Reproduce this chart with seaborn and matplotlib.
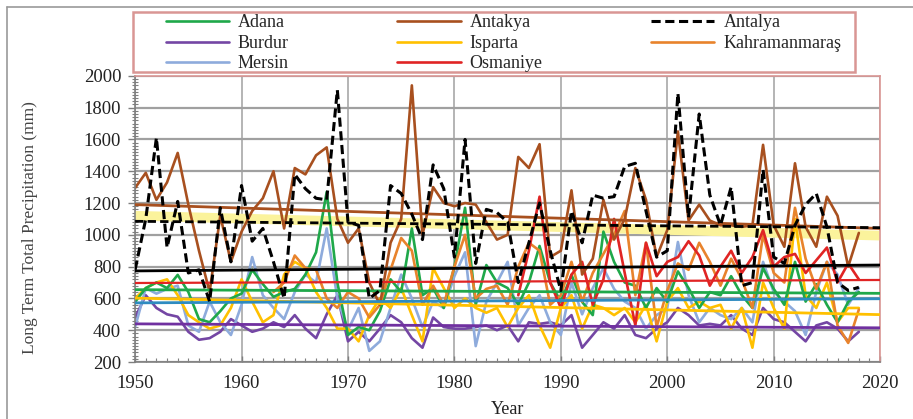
import numpy as np
import pandas as pd
import matplotlib.pyplot as plt
import seaborn as sns
from matplotlib.lines import Line2D
from matplotlib.patches import Rectangle
from matplotlib.ticker import MultipleLocator

years = list(range(1950, 2019))
adana = [578, 665, 700, 665, 748, 640, 470, 450, 520, 600,
         630, 780, 690, 610, 640, 660, 750, 890, 1270, 700,
         370, 420, 400, 520, 720, 640, 1040, 620, 665, 540,
         800, 1170, 560, 810, 700, 665, 560, 700, 930, 700,
         580, 748, 578, 495, 1020, 830, 700, 680, 540, 665,
         578, 770, 665, 540, 640, 620, 740, 620, 540, 790,
         660, 560, 830, 580, 690, 560, 450, 578, 640]
antakya = [1295, 1390, 1220, 1330, 1515, 1190, 900, 640, 1120, 830,
           1020, 1150, 1230, 1400, 1040, 1420, 1380, 1500, 1550, 1100,
           950, 1040, 700, 560, 950, 1100, 1940, 1000, 1300, 1200,
           1180, 1200, 1190, 1080, 970, 1000, 1490, 1420, 1570, 860,
           900, 1280, 750, 850, 1220, 970, 1100, 1420, 1220, 860,
           1030, 1650, 1090, 1190, 1090, 1060, 1060, 1050, 1060, 1566,
           1060, 925, 1450, 1050, 925, 1240, 1120, 800, 1012]
antalya = [780, 1100, 1610, 920, 1210, 760, 780, 580, 1170, 830,
           1310, 960, 1040, 830, 600, 1380, 1290, 1230, 1220, 1910,
           1080, 1060, 600, 650, 1310, 1260, 1130, 970, 1440, 1290,
           860, 1600, 820, 1160, 1140, 1080, 700, 950, 1200, 900,
           650, 1150, 950, 1250, 1230, 1240, 1430, 1450, 1150, 860,
           900, 1890, 1110, 1760, 1250, 1060, 1300, 680, 700, 1410,
           860, 820, 1060, 1190, 1260, 1050, 700, 650, 670]
burdur = [480, 620, 540, 500, 485, 390, 340, 350, 390, 470,
          430, 390, 410, 450, 420, 495, 410, 350, 500, 620,
          330, 390, 330, 410, 495, 450, 350, 290, 480, 420,
          410, 410, 420, 430, 400, 430, 330, 450, 440, 450,
          430, 495, 290, 370, 450, 410, 495, 370, 350, 410,
          450, 540, 495, 430, 440, 430, 495, 410, 370, 540,
          470, 450, 390, 330, 430, 450, 410, 330, 390]
isparta = [600, 665, 700, 720, 620, 495, 450, 410, 430, 540,
           720, 580, 450, 495, 750, 830, 790, 640, 540, 410,
           410, 330, 495, 600, 540, 665, 495, 330, 790, 665,
           540, 600, 540, 510, 540, 420, 540, 620, 430, 290,
           540, 620, 410, 560, 540, 495, 540, 450, 560, 330,
           580, 665, 540, 580, 540, 560, 410, 540, 290, 700,
           540, 410, 1100, 620, 540, 700, 450, 540, 540]
mersin = [420, 665, 630, 660, 680, 430, 390, 580, 450, 370,
          560, 860, 620, 540, 470, 640, 750, 700, 1040, 600,
          400, 540, 270, 330, 540, 750, 600, 420, 580, 540,
          740, 890, 300, 580, 700, 830, 430, 540, 620, 450,
          370, 700, 500, 665, 790, 660, 580, 540, 410, 495,
          540, 955, 620, 450, 540, 495, 470, 540, 450, 830,
          640, 580, 520, 370, 640, 830, 750, 560, 665]
kahraman_years = list(range(1963, 2019))
kahramanmaras = [640, 700, 870, 790, 780, 600, 540, 640, 600, 480,
                 560, 780, 980, 900, 560, 680, 560, 800, 1000, 600,
                 660, 680, 560, 800, 950, 900, 560, 620, 830, 580,
                 760, 880, 1000, 1150, 620, 950, 420, 650, 820, 780,
                 950, 830, 680, 850, 720, 540, 1000, 760, 700, 1170,
                 850, 660, 830, 430, 320, 530]
osmaniye_years = list(range(1986, 2019))
osmaniye = [620, 900, 1240, 700, 540, 750, 830, 560, 720, 1100,
            760, 430, 950, 740, 830, 860, 960, 870, 680, 800,
            900, 760, 860, 1030, 800, 860, 880, 760, 840, 920,
            700, 820, 720]

# trend lines (value at 1950, value at 2020)
trend_x = [1950, 2020]
trend_band = [1120, 995]
trend_antakya = [1190, 1040]
trend_antalya = [1085, 1045]
trend_black = [773, 810]
trend_red = [697, 716]
trend_green = [655, 632]
trend_teal = [572, 598]
trend_gold = [602, 498]
trend_purple = [440, 415]

sns.set_theme(style='white')
plt.rcParams['font.family'] = ['Liberation Serif', 'DejaVu Serif']

fig = plt.figure(figsize=(9.13, 4.19), dpi=100)
ax = fig.add_axes([0.148, 0.136, 0.816, 0.683])

lw = 1.9
series = [
    ('Burdur', years, burdur, '#7446a4'),
    ('Mersin', years, mersin, '#8eabdc'),
    ('Isparta', years, isparta, '#ffc000'),
    ('Adana', years, adana, '#1fa84a'),
    ('Kahramanmaraş', kahraman_years, kahramanmaras, '#e8832c'),
    ('Osmaniye', osmaniye_years, osmaniye, '#e02424'),
    ('Antakya', years, antakya, '#a8501f'),
]

sns.lineplot(x=trend_x, y=trend_band, color='#fbf39c', linewidth=7, ax=ax, zorder=1)
for name, xs, ys, col in series:
    sns.lineplot(x=xs, y=ys, color=col, linewidth=lw, ax=ax, label=name, zorder=2)

sns.lineplot(x=trend_x, y=trend_purple, color='#7030a0', linewidth=2, ax=ax, zorder=3)
sns.lineplot(x=trend_x, y=trend_gold, color='#ffc000', linewidth=2, ax=ax, zorder=3)
sns.lineplot(x=trend_x, y=trend_teal, color='#2e8bc0', linewidth=2, ax=ax, zorder=3)
sns.lineplot(x=trend_x, y=trend_green, color='#1fa84a', linewidth=2, ax=ax, zorder=3)
sns.lineplot(x=trend_x, y=trend_red, color='#e02424', linewidth=1.6, ax=ax, zorder=3)
sns.lineplot(x=trend_x, y=trend_black, color='black', linewidth=2, ax=ax, zorder=3)
sns.lineplot(x=trend_x, y=trend_antakya, color='#a8501f', linewidth=2, ax=ax, zorder=3)
sns.lineplot(x=trend_x, y=trend_antalya, color='black', linewidth=2, ax=ax, zorder=3,
             linestyle=(0, (3, 1.5)))

sns.lineplot(x=years, y=antalya, color='black', linewidth=2.2, ax=ax, label='Antalya',
             linestyle=(0, (3, 1.5)), zorder=4)

ax.set_xlim(1950, 2020)
ax.set_ylim(200, 2000)
ax.xaxis.set_major_locator(MultipleLocator(10))
ax.xaxis.set_minor_locator(MultipleLocator(1))
ax.yaxis.set_major_locator(MultipleLocator(200))
ax.yaxis.set_minor_locator(MultipleLocator(20))
ax.grid(axis='y', which='major', color='#a0a0a0', linewidth=1.6, zorder=0)
ax.grid(axis='x', which='major', color='#a0a0a0', linewidth=1.1, zorder=0)
ax.set_axisbelow(True)

ax.tick_params(axis='both', which='major', labelsize=13.5, colors='#7f7f7f', labelcolor='#222222')
ax.tick_params(axis='y', which='major', direction='out', length=5, width=1, pad=5, left=True)
ax.tick_params(axis='y', which='minor', direction='inout', length=4, width=0.8, left=True, colors='#7f7f7f')
ax.tick_params(axis='x', which='major', direction='in', length=4, width=1, pad=9, bottom=True)
ax.tick_params(axis='x', which='minor', direction='in', length=3, width=0.8, bottom=True, colors='#7f7f7f')

for side in ['left', 'bottom']:
    ax.spines[side].set_color('#7f7f7f')
    ax.spines[side].set_linewidth(1.2)
for side in ['top', 'right']:
    ax.spines[side].set_color('#d99694')
    ax.spines[side].set_linewidth(1.2)

ax.set_ylabel('Long Term Total Precipitation (mm)', fontsize=12.5, color='#444444')
ax.yaxis.set_label_coords(-0.13, 0.47)
ax.set_xlabel('Year', fontsize=13, color='#222222')
ax.xaxis.set_label_coords(0.5, -0.135)

handles, labels = ax.get_legend_handles_labels()
ax.get_legend().remove()
lookup = dict(zip(labels, handles))
order = ['Adana', 'Burdur', 'Mersin', 'Antakya', 'Isparta', 'Osmaniye',
         'Antalya', 'Kahramanmaraş']
leg = fig.legend([lookup[k] for k in order], order, ncol=3, loc='lower left',
                 bbox_to_anchor=(161 / 913, 1 - 77 / 419, 685 / 913, 60 / 419),
                 mode='expand', frameon=False, fontsize=13, handlelength=3.5,
                 labelspacing=0.2, borderpad=0.25, handletextpad=0.5,
                 borderaxespad=0)

fig.add_artist(Rectangle((133 / 913, 1 - 72 / 419), 722 / 913, 60 / 419,
                         fill=False, edgecolor='#d99694', linewidth=1.8))
fig.add_artist(Line2D([7 / 913, 7 / 913], [0, 1 - 7 / 419], color='#9a9a9a', linewidth=1.2))
fig.add_artist(Line2D([7 / 913, 1], [1 - 7 / 419, 1 - 7 / 419], color='#9a9a9a', linewidth=1.2))

plt.savefig('out.png', dpi=100)
plt.close()
